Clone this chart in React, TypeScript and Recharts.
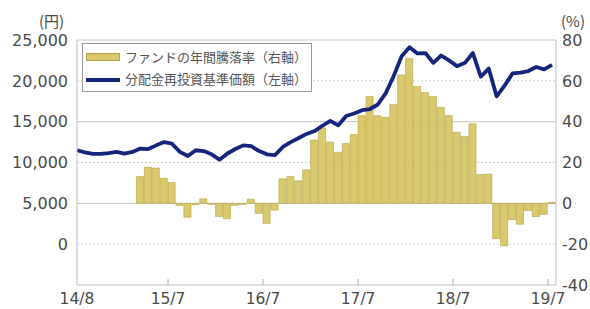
import React from 'react';
import { ComposedChart, Bar, Line, XAxis, YAxis, CartesianGrid } from 'recharts';

// 月次データ（分配金再投資基準価額：円、ファンドの年間騰落率：%）
const navValues = [
  11500, 11250, 11050, 11050, 11150, 11300, 11100, 11300, 11700, 11650,
  12100, 12500, 12300, 11300, 10800, 11500, 11400, 11000, 10350, 11100,
  11650, 12100, 12000, 11400, 11000, 10900, 11900, 12500, 13000, 13500,
  13850, 14500, 15100, 14550, 15700, 16000, 16400, 16550, 17100, 18500,
  20600, 23000, 24100, 23350, 23400, 22200, 23100, 22500, 21800, 22200,
  23400, 20500, 21500, 18100, 19400, 20900, 21000, 21200, 21700, 21400,
  21950,
];

const rateValues: (number | null)[] = [
  null, null, null, null, null, null, null, null, 13.1, 17.7,
  17.3, 12.3, 10.2, -1, -6.8, -0.7, 2.2, -0.5, -6.5, -7.5,
  -1, -0.5, 2, -4.9, -9.8, -3.3, 12, 13.1, 11, 16.4,
  31, 37, 30, 25, 29.3, 33.7, 42.9, 52.3, 42.9, 42.1,
  48.3, 62.9, 71, 57.2, 54.3, 52.3, 47, 43, 34.8, 32.8,
  39, 14.1, 14.3, -17.3, -20.8, -8, -10.2, -3.5, -6.5, -5.4,
  0.5,
];

const xTickPos = [0, 11.5, 23.5, 35.5, 47.5, 59.5];
const xTickLabels = ['14/8', '15/7', '16/7', '17/7', '18/7', '19/7'];
const leftTicks = [0, 5000, 10000, 15000, 20000, 25000];
const rightTicks = [-40, -20, 0, 20, 40, 60, 80];

const data = navValues.map((v, i) => ({ idx: i, nav: v, rate: rateValues[i] }));

const FONT = "'DejaVu Sans', sans-serif";
const JP = "'Noto Sans CJK JP', sans-serif";
const TEXT = '#4a4a4a';
const BAR_FILL = '#dac86c';
const BAR_STROKE = '#b3a248';
const LINE = '#15257c';

const XTick = (props: any) => {
  const { x, y, payload } = props;
  const k = xTickPos.indexOf(payload.value);
  return (
    <g>
      {k > 0 && <line x1={x} x2={x} y1={y} y2={y - 6} stroke="#aaa" />}
      <text x={x} y={y + 19} textAnchor="middle" fill={TEXT} fontSize={15.5} fontFamily={FONT}>
        {xTickLabels[k]}
      </text>
    </g>
  );
};

export default function App() {
  return (
    <div style={{ position: 'absolute', left: 0, top: 0, width: 590, height: 309, background: '#fff' }}>
      <ComposedChart
        width={590}
        height={309}
        data={data}
        margin={{ top: 40, right: 4, bottom: 0, left: 7 }}
      >
        <CartesianGrid yAxisId="left" vertical={false} horizontalValues={[0, 10000, 20000]} stroke="#cfcfcf" strokeDasharray="2 2" />
        <CartesianGrid yAxisId="left" vertical={false} horizontalValues={[5000, 15000, 25000]} stroke="#c6c6c6" />
        <XAxis
          dataKey="idx"
          type="number"
          domain={[0, 60.5]}
          ticks={xTickPos}
          interval={0}
          height={24}
          tickSize={0}
          tickMargin={0}
          tickLine={false}
          axisLine={{ stroke: '#bdbdbd' }}
          tick={<XTick />}
        />
        <YAxis
          yAxisId="left"
          orientation="left"
          width={70}
          domain={[-5000, 25000]}
          ticks={leftTicks}
          interval={0}
          tickLine={false}
          tickSize={0}
          tickMargin={9}
          axisLine={{ stroke: '#bdbdbd' }}
          tick={{ fill: TEXT, fontSize: 16, fontFamily: FONT }}
          tickFormatter={(v: number) => v.toLocaleString('en-US')}
        />
        <YAxis
          yAxisId="right"
          orientation="right"
          width={30}
          domain={[-40, 80]}
          ticks={rightTicks}
          interval={0}
          tickLine={false}
          tickSize={0}
          tickMargin={6}
          axisLine={{ stroke: '#bdbdbd' }}
          tick={{ fill: TEXT, fontSize: 16, fontFamily: FONT }}
        />
        <Bar
          yAxisId="right"
          dataKey="rate"
          barSize={8}
          fill={BAR_FILL}
          stroke={BAR_STROKE}
          strokeWidth={0.6}
          isAnimationActive={false}
        />
        <Line
          yAxisId="left"
          dataKey="nav"
          type="linear"
          stroke={LINE}
          strokeWidth={3.8}
          strokeLinejoin="round"
          dot={false}
          isAnimationActive={false}
        />
      </ComposedChart>

      <div style={{ position: 'absolute', left: 39, top: 10, fontSize: 15, color: TEXT, fontFamily: JP }}>(円)</div>
      <div style={{ position: 'absolute', left: 561, top: 10, fontSize: 15, color: TEXT, fontFamily: JP }}>(%)</div>

      <div
        style={{
          position: 'absolute',
          left: 82,
          top: 43,
          width: 228,
          height: 47,
          border: '1px solid #9a9a9a',
          background: '#fff',
          fontFamily: JP,
          fontSize: 13,
          color: '#555',
        }}
      >
        <div style={{ position: 'absolute', left: 3, top: 9, width: 34, height: 8, background: BAR_FILL, border: `1px solid ${BAR_STROKE}`, boxSizing: 'border-box' }} />
        <div style={{ position: 'absolute', left: 42, top: 4, whiteSpace: 'nowrap', lineHeight: '18px' }}>ファンドの年間騰落率（右軸）</div>
        <div style={{ position: 'absolute', left: 3, top: 34, width: 34, height: 3.5, background: LINE }} />
        <div style={{ position: 'absolute', left: 42, top: 26, whiteSpace: 'nowrap', lineHeight: '18px' }}>分配金再投資基準価額（左軸）</div>
      </div>
    </div>
  );
}
